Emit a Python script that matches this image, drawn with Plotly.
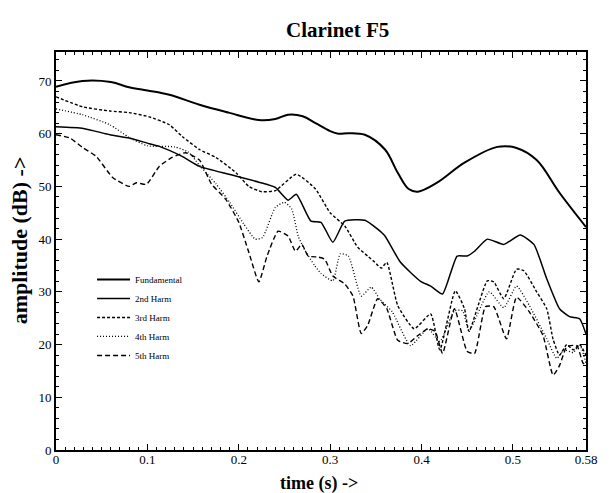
import plotly.graph_objects as go

# ---- data ----
t_fund = [0, 0.029, 0.06, 0.08, 0.1, 0.124, 0.157, 0.189, 0.222, 0.24, 0.254, 0.27, 0.284, 0.3,
          0.309, 0.32, 0.338, 0.36, 0.374, 0.386, 0.396, 0.417, 0.447, 0.483, 0.504, 0.526, 0.551, 0.58]
a_fund = [68.9, 70, 69.8, 68.8, 68.2, 67.4, 65.5, 64, 62.6, 62.8, 63.6, 63.3, 62, 60.5,
          60, 60.1, 59.8, 57, 52.6, 49.5, 49, 50.7, 54.5, 57.5, 57.3, 55, 48.8, 42.3]

t_h2 = [0, 0.03, 0.059, 0.08, 0.102, 0.113, 0.138, 0.157, 0.189, 0.222, 0.24, 0.254, 0.263, 0.279,
        0.29, 0.303, 0.316, 0.338, 0.352, 0.36, 0.377, 0.399, 0.41, 0.423, 0.439, 0.45, 0.458, 0.472,
        0.49, 0.508, 0.523, 0.537, 0.551, 0.562, 0.573, 0.58]
a_h2 = [61.3, 61, 59.8, 59.2, 58.1, 57.6, 55.7, 53.8, 52.3, 50.8, 49.8, 47.4, 48.5, 43.4,
        43.2, 39.4, 43.4, 43.6, 41.9, 40.6, 35.6, 32, 31.1, 29.6, 36.8, 36.8, 37.7, 40,
        39, 40.8, 39, 32.5, 26.8, 25.3, 24.9, 22]

t_h3 = [0, 0.029, 0.059, 0.08, 0.102, 0.124, 0.138, 0.157, 0.175, 0.197, 0.211, 0.225, 0.24, 0.263,
        0.284, 0.3, 0.316, 0.33, 0.341, 0.349, 0.356, 0.362, 0.374, 0.392, 0.41, 0.42, 0.437, 0.447,
        0.452, 0.472, 0.479, 0.49, 0.504, 0.512, 0.526, 0.537, 0.544, 0.551, 0.559, 0.566, 0.573, 0.58]
a_h3 = [67, 65.1, 64.3, 64, 63.2, 61.7, 59.5, 57, 55.5, 52.6, 50, 49, 49.2, 52.3,
        49.5, 45, 42.5, 38.5, 36.8, 35.6, 34.5, 35.6, 27.4, 23, 25.8, 19, 30.2, 26.8,
        22.5, 32.1, 31.9, 28.7, 34.3, 34, 30, 26.8, 21, 18, 20, 19, 20, 18]

t_h4 = [0, 0.029, 0.059, 0.08, 0.1, 0.13, 0.145, 0.157, 0.175, 0.19, 0.205, 0.218, 0.226, 0.24,
        0.25, 0.258, 0.265, 0.272, 0.283, 0.29, 0.303, 0.311, 0.32, 0.334, 0.345, 0.354, 0.368,
        0.388, 0.407, 0.42, 0.436, 0.445, 0.452, 0.474, 0.49, 0.504, 0.518, 0.537, 0.548, 0.556,
        0.566, 0.573, 0.58]
a_h4 = [64.7, 63.6, 61.7, 59.3, 57.7, 57.5, 56.5, 54, 50.5, 47, 43, 40, 40.3, 46,
        47, 45.7, 40.6, 38, 35, 33.5, 32.1, 37.2, 36.8, 29.2, 30.9, 28.7, 26.2,
        19.8, 23, 20.6, 26.4, 26.4, 22.6, 30, 27, 31.1, 27.4, 21.1, 17.4, 19,
        18.5, 20, 16.5]

t_h5 = [0, 0.015, 0.029, 0.044, 0.062, 0.08, 0.088, 0.099, 0.113, 0.127, 0.142, 0.157, 0.17, 0.186,
        0.2, 0.211, 0.222, 0.231, 0.243, 0.254, 0.262, 0.269, 0.276, 0.287, 0.294, 0.303, 0.316,
        0.325, 0.334, 0.341, 0.352, 0.362, 0.374, 0.385, 0.396, 0.407, 0.415, 0.423, 0.436, 0.45,
        0.458, 0.47, 0.479, 0.493, 0.504, 0.518, 0.533, 0.544, 0.551, 0.559, 0.57, 0.577, 0.58]
a_h5 = [59.8, 59.2, 57.4, 55.7, 51.7, 50, 50.7, 50.4, 53.8, 55.5, 56.4, 55, 50.5, 47.5,
        43.2, 37.5, 31.9, 36.8, 41.5, 40.6, 37.7, 39, 36.8, 36.6, 36.2, 33, 31.5,
        29.2, 22.1, 23.6, 28.7, 26.8, 20.8, 20.2, 21.7, 23, 22.5, 18.3, 26.8, 18.7,
        18.3, 27.2, 27.2, 21.1, 29, 26.2, 21.7, 14.2, 16, 19.6, 19.8, 16.4, 17]

x_tickvals = [0, 0.1, 0.2, 0.3, 0.4, 0.5, 0.58]
x_ticktext = ["0", "0.1", "0.2", "0.3", "0.4", "0.5", "0.58"]
y_tickvals = [0, 10, 20, 30, 40, 50, 60, 70]

series = [
    ("Fundamental", t_fund, a_fund, dict(color="black", width=2.0, dash="solid"), 1.0),
    ("2nd Harm", t_h2, a_h2, dict(color="black", width=1.5, dash="solid"), 0.5),
    ("3rd Harm", t_h3, a_h3, dict(color="black", width=1.4, dash="3px,2px"), 0.5),
    ("4th Harm", t_h4, a_h4, dict(color="black", width=1.3, dash="1px,2px"), 0.5),
    ("5th Harm", t_h5, a_h5, dict(color="black", width=1.4, dash="5px,3px"), 0.5),
]

fig = go.Figure()
for name, t, a, ln, sm in series:
    fig.add_trace(go.Scatter(x=t, y=a, mode="lines", name=name,
                             line=dict(shape="spline", smoothing=sm, **ln)))

serif = "Liberation Serif, Times New Roman, serif"
L, R, T, B = 56, 18, 52, 43
W, H = 609, 493
pw, ph = W - L - R, H - T - B


def px(x):
    return (x - L) / pw


def py(y):
    return (H - B - y) / ph


fig.update_layout(
    width=W, height=H,
    margin=dict(l=L, r=R, t=T, b=B),
    paper_bgcolor="white", plot_bgcolor="white",
    font=dict(family=serif, color="black", size=13),
    showlegend=True,
    legend=dict(x=0.068, y=0.465, xanchor="left", yanchor="top",
                bgcolor="rgba(0,0,0,0)", borderwidth=0,
                font=dict(family=serif, size=9, color="black"),
                tracegroupgap=0, itemwidth=33),
    annotations=[
        dict(text="<b>Clarinet F5</b>", x=px(340), y=py(30), xref="paper", yref="paper",
             xanchor="center", yanchor="middle", showarrow=False,
             font=dict(family=serif, size=21)),
        dict(text="<b>time (s) -></b>", x=px(321), y=py(483), xref="paper", yref="paper",
             xanchor="center", yanchor="middle", showarrow=False,
             font=dict(family=serif, size=18)),
        dict(text="<b>amplitude (dB) -></b>", x=px(19), y=py(240), xref="paper", yref="paper",
             xanchor="center", yanchor="middle", showarrow=False, textangle=-90,
             font=dict(family=serif, size=22)),
    ],
)

fig.update_xaxes(
    range=[0, 0.58], tickvals=x_tickvals, ticktext=x_ticktext,
    ticks="inside", ticklen=6, tickwidth=1, tickcolor="black", ticklabelstandoff=-4,
    minor=dict(dtick=0.01, ticks="inside", ticklen=3, tickcolor="black", showgrid=False),
    showline=True, linecolor="black", linewidth=2, mirror="allticks",
    showgrid=False, zeroline=False,
    tickfont=dict(family=serif, size=13),
)
fig.update_yaxes(
    range=[0, 75.5], tickvals=y_tickvals,
    ticks="inside", ticklen=6, tickwidth=1, tickcolor="black",
    minor=dict(dtick=2, ticks="inside", ticklen=3, tickcolor="black", showgrid=False),
    showline=True, linecolor="black", linewidth=2, mirror="allticks",
    showgrid=False, zeroline=False,
    tickfont=dict(family=serif, size=13),
)

fig.write_html("out.html")
